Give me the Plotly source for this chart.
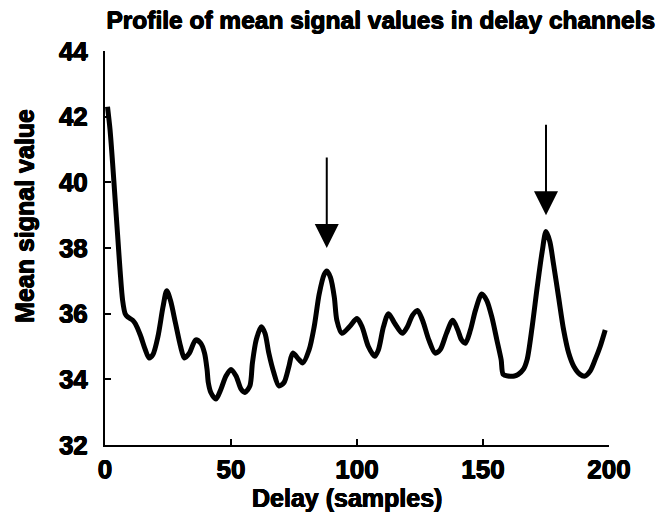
import plotly.graph_objects as go

# Mean signal value per delay channel
delay = [1, 2, 3, 4, 5, 6, 7, 8, 9, 11, 12, 14, 16, 17.5, 19, 21, 23, 24.5, 26, 28,
         30, 31.5, 33.5, 36, 38, 39.5, 40.5, 41, 42, 44, 46, 48, 50, 52, 54, 55.5,
         57.5, 58.5, 60, 62, 63.5, 65, 67, 69, 71, 73, 74.5, 77, 78.5, 81, 83, 85,
         87, 88, 89.5, 91, 92, 94, 97, 100, 102, 104.5, 107, 108.5, 110.5, 112.5,
         115, 118, 120, 122, 124, 126, 128.5, 131, 133, 135.5, 138, 140, 141.5, 143,
         145, 147, 149.5, 151.5, 153.5, 155.5, 157.2, 158, 160, 162.5, 164, 166,
         167.5, 169.5, 171.5, 173.5, 175, 176.5, 178, 180, 182, 184, 186, 188.5,
         190.5, 192.5, 194.5, 196.5, 198.5]
mean_signal = [42.3, 41.6, 40.6, 39.5, 38.4, 37.3, 36.4, 36.0, 35.9, 35.8, 35.7, 35.35,
               34.9, 34.65, 34.75, 35.3, 36.2, 36.7, 36.4, 35.7, 35.0, 34.65, 34.8, 35.2,
               35.1, 34.8, 34.3, 33.9, 33.6, 33.4, 33.7, 34.1, 34.3, 34.1, 33.7, 33.6,
               33.8, 34.5, 35.2, 35.6, 35.4, 34.8, 34.2, 33.8, 33.9, 34.4, 34.8, 34.6,
               34.5, 34.9, 35.6, 36.6, 37.2, 37.3, 37.1, 36.5, 35.8, 35.4, 35.6, 35.85,
               35.6, 35.0, 34.7, 34.9, 35.6, 36.0, 35.7, 35.4, 35.6, 35.95, 36.1, 35.8,
               35.2, 34.8, 34.9, 35.4, 35.8, 35.5, 35.2, 35.1, 35.5, 36.1, 36.6, 36.4,
               35.9, 35.2, 34.6, 34.15, 34.1, 34.1, 34.15, 34.3, 34.6, 35.6, 36.8, 37.9,
               38.5, 38.2, 37.5, 36.5, 35.5, 34.8, 34.4, 34.15, 34.1, 34.25, 34.6, 35.0,
               35.5]

# Highlighted peaks: (delay, arrow tip value, arrow tail value)
peak_delay = [88, 175]
arrow_tip = [38.0, 39.0]
arrow_tail = [40.8, 41.8]

x_ticks = [0, 50, 100, 150, 200]
y_ticks = [32, 34, 36, 38, 40, 42, 44]

FAMILY = "Liberation Sans, Arial, Helvetica, sans-serif"
# slight outline to give the heavy bold lettering
HEAVY = "0.5px 0 0 #000, -0.5px 0 0 #000, 0 0.4px 0 #000, 0 -0.4px 0 #000"


def heavy_font(size):
    return dict(family=FAMILY, size=size, color="black", weight="bold", shadow=HEAVY)


fig = go.Figure()
fig.add_trace(go.Scatter(
    x=delay, y=mean_signal, mode="lines",
    line=dict(color="black", width=5, shape="spline", smoothing=0.8),
    hoverinfo="skip", showlegend=False,
))

for px, tip, tail in zip(peak_delay, arrow_tip, arrow_tail):
    fig.add_annotation(
        x=px, y=tip, ax=px, ay=tail, xref="x", yref="y", axref="x", ayref="y",
        text="", showarrow=True, arrowhead=2, arrowsize=2.4, arrowwidth=2,
        arrowcolor="black", standoff=0,
    )

axis_common = dict(
    showline=True, linecolor="black", linewidth=2, mirror=False,
    ticks="inside", ticklen=6, tickwidth=1.5, tickcolor="black",
    showgrid=False, zeroline=False,
    tickfont=heavy_font(26),
)

fig.update_xaxes(range=[0, 200], tickvals=x_ticks, ticklabelstandoff=0, **axis_common)
fig.update_yaxes(range=[32, 44], tickvals=y_ticks, ticklabelstandoff=10, **axis_common)

fig.add_annotation(
    text="Delay (samples)", xref="paper", yref="paper", x=0.481, y=-0.135,
    xanchor="center", yanchor="middle", showarrow=False,
    font=heavy_font(25),
)
fig.add_annotation(
    text="Mean signal value", xref="paper", yref="paper", x=-0.159, y=0.581,
    xanchor="center", yanchor="middle", showarrow=False, textangle=-90,
    font=heavy_font(25),
)

fig.update_layout(
    width=661, height=521,
    margin=dict(l=105, r=52, t=51, b=76),
    paper_bgcolor="white", plot_bgcolor="white",
    title=dict(
        text="Profile of mean signal values in delay channels",
        xref="container", yref="container", x=0.576, y=0.9616,
        xanchor="center", yanchor="middle",
        font=heavy_font(24.5),
    ),
)

fig.write_html("out.html")
